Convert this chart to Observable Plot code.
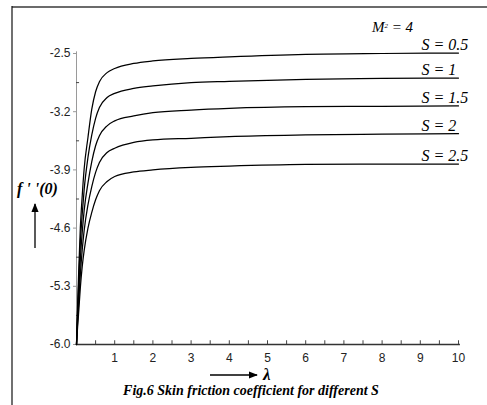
<!DOCTYPE html>
<html>
<head>
<meta charset="utf-8">
<script src="https://cdn.jsdelivr.net/npm/d3@7"></script>
<script src="https://cdn.jsdelivr.net/npm/@observablehq/plot@0.6"></script>
<style>
  html, body { margin: 0; padding: 0; background: #fff; }
  #wrap { position: relative; width: 487px; height: 405px; overflow: hidden; background: #fff; }
  #wrap svg.plot { position: absolute; left: 0; top: 0; }
  .ann { position: absolute; font-family: "Liberation Serif", "Times New Roman", serif; color: #000; white-space: nowrap; line-height: 1; }
</style>
</head>
<body>
<div id="wrap">
  <svg width="487" height="405" style="position:absolute;left:0;top:0" id="deco">
    <defs>
      <marker id="ah" viewBox="0 0 10 10" refX="9" refY="5" markerWidth="7" markerHeight="7" orient="auto">
        <path d="M0,1 L10,5 L0,9 z" fill="#000"/>
      </marker>
    </defs>
    <line x1="12" y1="7" x2="487" y2="7" stroke="#6b6b6b" stroke-width="2"/>
    <line x1="12" y1="6" x2="12" y2="405" stroke="#111" stroke-width="1.2"/>
    <line x1="35" y1="248" x2="35" y2="204" stroke="#000" stroke-width="1.3" marker-end="url(#ah)"/>
    <line x1="210" y1="375" x2="257" y2="375" stroke="#000" stroke-width="1.3" marker-end="url(#ah)"/>
  </svg>
  <div class="ann" style="left:372px;top:20px;font-size:15px;font-style:italic;">M<span style="font-size:7px;vertical-align:4px;">2</span> = 4</div>
  <div class="ann" style="left:17px;top:181px;font-size:16px;font-style:italic;font-weight:bold;">f ' '(0)</div>
  <div class="ann" style="left:263px;top:366px;font-size:17px;font-style:italic;font-weight:bold;">λ</div>
  <div class="ann" style="left:0;width:502px;text-align:center;top:384px;font-size:14px;font-style:italic;font-weight:bold;">Fig.6 Skin friction coefficient for different S</div>
</div>
<script>
// λ grid (x values)
const lambda = [0, 0.03, 0.06, 0.1, 0.15, 0.2, 0.3, 0.4, 0.5, 0.6, 0.8, 1, 1.5, 2, 3, 4, 6, 8, 10];
// f''(0) series
const s05 = [-6.00, -5.51, -5.09, -4.60, -4.21, -3.89, -3.51, -3.17, -2.96, -2.84, -2.73, -2.68, -2.62, -2.59, -2.56, -2.54, -2.51, -2.50, -2.495];
const s10 = [-6.00, -5.58, -5.23, -4.78, -4.43, -4.14, -3.75, -3.48, -3.28, -3.15, -3.03, -2.98, -2.92, -2.89, -2.85, -2.835, -2.81, -2.80, -2.795];
const s15 = [-6.00, -5.66, -5.35, -4.98, -4.65, -4.39, -4.06, -3.80, -3.61, -3.49, -3.37, -3.31, -3.25, -3.21, -3.18, -3.16, -3.14, -3.135, -3.13];
const s20 = [-6.00, -5.72, -5.47, -5.16, -4.86, -4.63, -4.32, -4.10, -3.93, -3.81, -3.69, -3.64, -3.57, -3.54, -3.52, -3.50, -3.48, -3.47, -3.465];
const s25 = [-6.00, -5.78, -5.59, -5.32, -5.06, -4.87, -4.60, -4.41, -4.26, -4.15, -4.04, -3.98, -3.925, -3.90, -3.87, -3.855, -3.835, -3.83, -3.83];
const seriesLabels = ["S = 0.5", "S = 1", "S = 1.5", "S = 2", "S = 2.5"];
const seriesValues = [s05, s10, s15, s20, s25];
// axis ticks
const yTicks = [-6.0, -5.3, -4.6, -3.9, -3.2, -2.5];
const yMinor = [-5.65, -4.95, -4.25, -3.55, -2.85];
const xTickLabels = [1, 2, 3, 4, 5, 6, 7, 8, 9, 10];
const xTicksAll = [0.5, 1, 1.5, 2, 2.5, 3, 3.5, 4, 4.5, 5, 5.5, 6, 6.5, 7, 7.5, 8, 8.5, 9, 9.5, 10];

const rows = [];
seriesValues.forEach((vals, i) => vals.forEach((v, j) => rows.push({s: seriesLabels[i], lambda: lambda[j], value: v})));
const ends = seriesValues.map((vals, i) => ({s: seriesLabels[i], lambda: lambda[lambda.length - 1], value: vals[vals.length - 1]}));

const plot = Plot.plot({
  width: 487,
  height: 405,
  marginLeft: 76,
  marginRight: 29,
  marginTop: 53,
  marginBottom: 61,
  x: {domain: [0, 10]},
  y: {domain: [-6, -2.5]},
  style: {background: "transparent", fontFamily: "'Liberation Sans', Arial, sans-serif", fontSize: "12px", color: "#222"},
  marks: [
    Plot.ruleX([0], {y1: -6, y2: -2.48, stroke: "#9a9a9a", strokeWidth: 1}),
    Plot.ruleY([-6], {x1: 0, x2: 10.05, stroke: "#333", strokeWidth: 1.5}),
    Plot.ruleX(xTicksAll, {y1: -6, y2: -5.955, stroke: "#444", strokeWidth: 1}),
    Plot.ruleY(yMinor, {x1: 0, x2: 0.08, stroke: "#444", strokeWidth: 1}),
    Plot.axisY({ticks: yTicks, tickSize: 3, tickPadding: 3, tickFormat: d => d.toFixed(1), label: null, stroke: "#999", fill: "#222"}),
    Plot.axisX({ticks: xTickLabels, tickSize: 0, tickPadding: 9, tickFormat: d => String(d), label: null, fill: "#222"}),
    Plot.line(rows, {x: "lambda", y: "value", z: "s", curve: "monotone-x", stroke: "#000", strokeWidth: 1.25}),
    Plot.text(ends, {x: "lambda", y: "value", text: "s", textAnchor: "start", lineAnchor: "bottom", dx: -37, dy: -3,
      fontFamily: "'Liberation Serif', 'Times New Roman', serif", fontStyle: "italic", fontSize: 16, fill: "#000"})
  ]
});
plot.classList.add("plot");
document.getElementById("wrap").insertBefore(plot, document.getElementById("deco").nextSibling);
</script>
</body>
</html>
